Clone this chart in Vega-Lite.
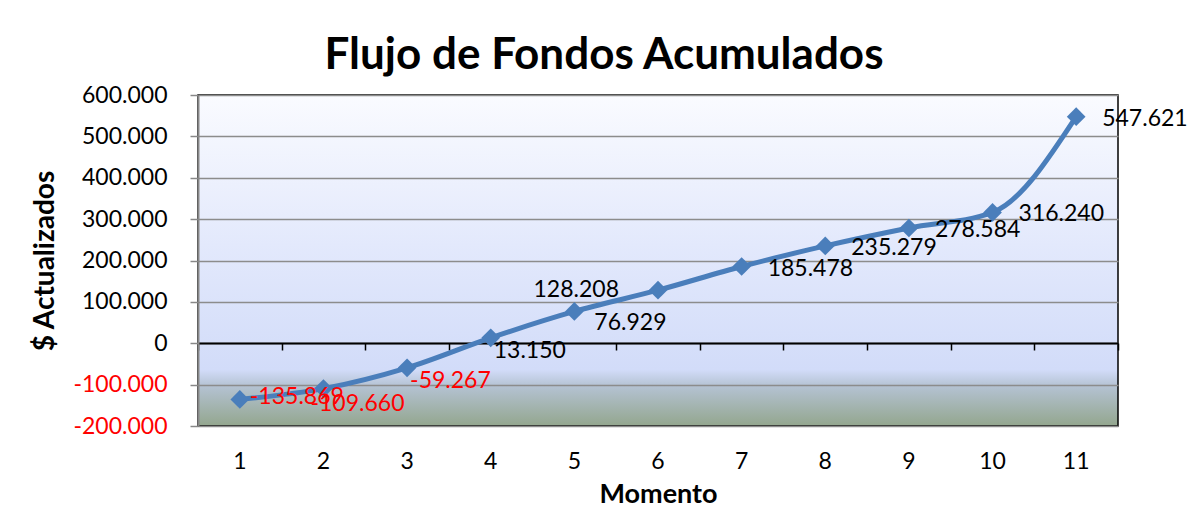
{
  "$schema": "https://vega.github.io/schema/vega-lite/v6.json",
  "width": 920,
  "height": 331,
  "autosize": {"type": "none"},
  "padding": {"left": 198, "top": 95, "right": 80, "bottom": 88},
  "background": "white",
  "config": {
    "locale": {"number": {"decimal": ",", "thousands": ".", "grouping": [3], "currency": ["$", ""], "minus": "-"}},
    "font": "Lato",
    "view": {
      "stroke": "black",
      "strokeWidth": 1.5,
      "fill": {
        "gradient": "linear", "x1": 0, "y1": 0, "x2": 0, "y2": 1,
        "stops": [
          {"offset": 0, "color": "#fafbff"},
          {"offset": 0.45, "color": "#e3e9fc"},
          {"offset": 0.83, "color": "#d2dcf9"},
          {"offset": 0.88, "color": "#b4c2d2"},
          {"offset": 1, "color": "#93a68e"}
        ]
      }
    }
  },
  "title": {
    "text": "Flujo de Fondos Acumulados",
    "font": "Lato",
    "fontSize": 44,
    "fontWeight": "bold",
    "color": "black",
    "anchor": "middle",
    "frame": "group",
    "baseline": "alphabetic",
    "offset": 25,
    "dy": 54,
    "dx": -54
  },
  "data": {
    "values": [
      {"Momento": 1, "valor": -135869},
      {"Momento": 2, "valor": -109660},
      {"Momento": 3, "valor": -59267},
      {"Momento": 4, "valor": 13150},
      {"Momento": 5, "valor": 76929},
      {"Momento": 6, "valor": 128208},
      {"Momento": 7, "valor": 185478},
      {"Momento": 8, "valor": 235279},
      {"Momento": 9, "valor": 278584},
      {"Momento": 10, "valor": 316240},
      {"Momento": 11, "valor": 547621}
    ]
  },
  "encoding": {
    "x": {
      "field": "Momento",
      "type": "ordinal",
      "scale": {"type": "band", "paddingInner": 0, "paddingOuter": 0},
      "axis": null
    },
    "y": {
      "field": "valor",
      "type": "quantitative",
      "scale": {"domain": [-200000, 600000], "nice": false, "zero": false},
      "axis": {
        "title": "$ Actualizados",
        "titleFont": "Lato",
        "titleFontSize": 28,
        "titleFontWeight": "bold",
        "titleColor": "black",
        "titleAngle": -90,
        "titleX": -153,
        "titleY": 165.5,
        "titleAlign": "center",
        "titleBaseline": "middle",
        "values": [-200000, -100000, 0, 100000, 200000, 300000, 400000, 500000, 600000],
        "format": ",d",
        "labelFont": "Lato",
        "labelFontSize": 23,
        "labelPadding": 23,
        "labelColor": {"condition": {"test": "datum.value < 0", "value": "red"}, "value": "black"},
        "tickSize": 8,
        "tickColor": "#888888",
        "tickWidth": 1.5,
        "domainColor": "#888888",
        "domainWidth": 2,
        "grid": true,
        "gridColor": "#8c8c8c",
        "gridWidth": 1.5
      }
    }
  },
  "layer": [
    {
      "mark": {"type": "line", "color": "#4a7ebb", "strokeWidth": 5, "interpolate": "monotone"},
      "encoding": {
        "x": {
          "field": "Momento",
          "type": "ordinal",
          "scale": {"type": "band", "paddingInner": 0, "paddingOuter": 0},
          "axis": {
            "orient": "bottom",
            "title": "Momento",
            "titleFont": "Lato",
            "titleFontSize": 27,
            "titleFontWeight": "bold",
            "titleColor": "black",
            "titleY": 76,
            "titleBaseline": "alphabetic",
            "labelFont": "Lato",
            "labelFontSize": 23,
            "labelAngle": 0,
            "labelPadding": 42,
            "labelBaseline": "alphabetic",
            "labelColor": "black",
            "ticks": false,
            "tickSize": 0,
            "domain": false,
            "grid": false
          }
        }
      }
    },
    {
      "mark": {"type": "point", "shape": "diamond", "filled": true, "color": "#4a7ebb", "size": 350, "opacity": 1},
      "encoding": {
        "x": {
          "field": "Momento",
          "type": "ordinal",
          "scale": {"type": "band", "paddingInner": 0, "paddingOuter": 0},
          "axis": {
            "orient": "bottom",
            "offset": -83,
            "labels": false,
            "title": null,
            "domainColor": "black",
            "domainWidth": 2,
            "tickColor": "black",
            "tickSize": 7,
            "tickWidth": 1.5,
            "tickBand": "extent",
            "grid": false
          }
        }
      }
    },
    {
      "transform": [{"filter": "datum.Momento == 1"}],
      "mark": {"type": "text", "align": "left", "baseline": "middle", "dx": 10, "dy": -2, "fontSize": 23, "font": "Lato"},
      "encoding": {
        "text": {"field": "valor", "type": "quantitative", "format": ",d"},
        "color": {"condition": {"test": "datum.valor < 0", "value": "red"}, "value": "black"}
      }
    },
    {
      "transform": [{"filter": "datum.Momento == 2"}],
      "mark": {"type": "text", "align": "left", "baseline": "middle", "dx": -13, "dy": 15, "fontSize": 23, "font": "Lato"},
      "encoding": {
        "text": {"field": "valor", "type": "quantitative", "format": ",d"},
        "color": {"condition": {"test": "datum.valor < 0", "value": "red"}, "value": "black"}
      }
    },
    {
      "transform": [{"filter": "datum.Momento == 3 || datum.Momento == 4"}],
      "mark": {"type": "text", "align": "left", "baseline": "middle", "dx": 3, "dy": 13, "fontSize": 23, "font": "Lato"},
      "encoding": {
        "text": {"field": "valor", "type": "quantitative", "format": ",d"},
        "color": {"condition": {"test": "datum.valor < 0", "value": "red"}, "value": "black"}
      }
    },
    {
      "transform": [{"filter": "datum.Momento == 5"}],
      "mark": {"type": "text", "align": "left", "baseline": "middle", "dx": 20, "dy": 12, "fontSize": 23, "font": "Lato"},
      "encoding": {
        "text": {"field": "valor", "type": "quantitative", "format": ",d"},
        "color": {"condition": {"test": "datum.valor < 0", "value": "red"}, "value": "black"}
      }
    },
    {
      "transform": [{"filter": "datum.Momento == 6"}],
      "mark": {"type": "text", "align": "right", "baseline": "middle", "dx": -39, "dy": 0, "fontSize": 23, "font": "Lato"},
      "encoding": {
        "text": {"field": "valor", "type": "quantitative", "format": ",d"},
        "color": {"condition": {"test": "datum.valor < 0", "value": "red"}, "value": "black"}
      }
    },
    {
      "transform": [{"filter": "datum.Momento >= 7"}],
      "mark": {"type": "text", "align": "left", "baseline": "middle", "dx": 26, "dy": 2, "fontSize": 23, "font": "Lato"},
      "encoding": {
        "text": {"field": "valor", "type": "quantitative", "format": ",d"},
        "color": {"condition": {"test": "datum.valor < 0", "value": "red"}, "value": "black"}
      }
    }
  ],
  "resolve": {"axis": {"x": "independent"}}
}
